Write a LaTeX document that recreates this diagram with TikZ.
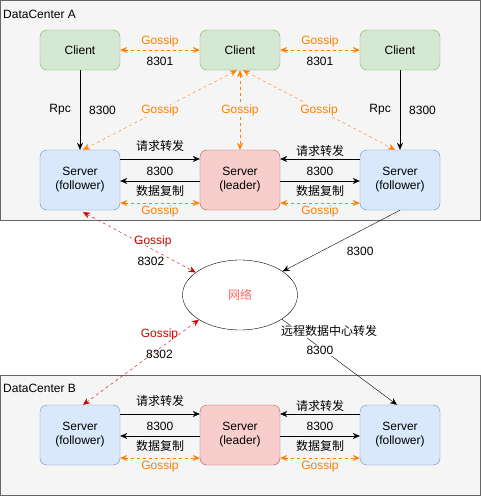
\documentclass[tikz,border=0pt]{standalone}
\usepackage{fontspec}
\setmainfont{Liberation Sans}
\newfontfamily\cjk{Noto Sans CJK SC}
\usetikzlibrary{arrows.meta,shapes.geometric}
\definecolor{gossip}{HTML}{FF8000}
\definecolor{wan}{HTML}{CC0000}
\definecolor{cfill}{HTML}{D5E8D4}
\definecolor{cline}{HTML}{82B366}
\definecolor{sfill}{HTML}{DAE8FC}
\definecolor{sline}{HTML}{6C8EBF}
\definecolor{lfill}{HTML}{F8CECC}
\definecolor{lline}{HTML}{B85450}
\tikzset{
	box/.style={draw,rounded corners=7pt,minimum width=80pt,minimum height=40pt,align=center,font=\fontsize{12}{14}\selectfont},
	client/.style={box,fill=cfill,draw=cline},
	server/.style={box,fill=sfill,draw=sline,minimum height=60pt},
	leader/.style={server,fill=lfill,draw=lline},
	dc/.style={draw=black!60,fill=black!4,line width=0.8pt},
	lbl/.style={font=\fontsize{12}{14}\selectfont,inner sep=1pt,text=black},
	cn/.style={lbl,font=\fontsize{12}{14}\selectfont\cjk},
	gl/.style={lbl,text=gossip},
	wl/.style={lbl,text=wan},
	gos/.style={gossip,dashed,{Stealth[length=7pt,width=6pt]}-{Stealth[length=7pt,width=6pt]}},
	wg/.style={wan,dashed,{Stealth[length=7pt,width=6pt]}-{Stealth[length=7pt,width=6pt]}},
	rq/.style={-{Stealth[length=7pt,width=6pt]}}
}
\begin{document}
\begin{tikzpicture}[x=1pt,y=-1pt]
	\useasboundingbox (0,0) rectangle (481,496);
	\draw[dc] (0.5,0.5) rectangle (480,220);
	\draw[dc] (0.5,375) rectangle (480,495.5);
	\node[lbl,anchor=west] at (2,14) {DataCenter A};
	\node[lbl,anchor=west] at (2,388) {DataCenter B};
	\node[client] (c1) at (80,50) {Client};
	\node[client] (c2) at (240,50) {Client};
	\node[client] (c3) at (400,50) {Client};
	\node[server] (s1) at (80,180) {Server\\(follower)};
	\node[leader] (l1) at (240,180) {Server\\(leader)};
	\node[server] (s2) at (400,180) {Server\\(follower)};
	\node[server] (s3) at (80,435) {Server\\(follower)};
	\node[leader] (l2) at (240,435) {Server\\(leader)};
	\node[server] (s4) at (400,435) {Server\\(follower)};
	\node[draw,ellipse,minimum width=115pt,minimum height=70pt,text=red!60,font=\fontsize{12}{14}\selectfont\cjk] (net) at (240,295) {网络};
	\draw[gos] (c1) -- (c2) node[gl,midway,yshift=9pt] {Gossip} node[lbl,midway,yshift=-11pt] {8301};
	\draw[gos] (c2) -- (c3) node[gl,midway,yshift=9pt] {Gossip} node[lbl,midway,yshift=-11pt] {8301};
	\draw[rq] (c1) -- (s1) node[lbl,midway,left=8pt] {Rpc} node[lbl,midway,right=8pt] {8300};
	\draw[rq] (c3) -- (s2) node[lbl,midway,left=8pt] {Rpc} node[lbl,midway,right=8pt] {8300};
	\draw[gos] ([xshift=-3pt]c2.south) -- ([xshift=3pt]s1.north) node[gl,midway,fill=black!4] {Gossip};
	\draw[gos] (c2) -- (l1) node[gl,midway,fill=black!4] {Gossip};
	\draw[gos] ([xshift=3pt]c2.south) -- ([xshift=-5pt]s2.north) node[gl,midway,fill=black!4] {Gossip};
	\foreach \a/\b/\c in {s1/l1/s2,s3/l2/s4}{
		\draw[rq] ([yshift=21pt]\a.east) -- ([yshift=21pt]\b.west) node[cn,midway,yshift=13pt] {请求转发};
		\draw[rq] ([yshift=-1pt]\b.west) -- ([yshift=-1pt]\a.east) node[lbl,midway,yshift=10pt] {8300} node[cn,midway,yshift=-10pt] {数据复制};
		\draw[gos] ([yshift=-23pt]\a.east) -- ([yshift=-23pt]\b.west) node[gl,midway,yshift=-8pt] {Gossip};
		\draw[rq] ([yshift=21pt]\c.west) -- ([yshift=21pt]\b.east) node[cn,midway,yshift=8pt] {请求转发};
		\draw[rq] ([yshift=-1pt]\b.east) -- ([yshift=-1pt]\c.west) node[lbl,midway,yshift=10pt] {8300} node[cn,midway,yshift=-10pt] {数据复制};
		\draw[gos] ([yshift=-23pt]\b.east) -- ([yshift=-23pt]\c.west) node[gl,midway,yshift=-8pt] {Gossip};
	}
	\draw[wg] ([xshift=3pt,yshift=-2pt]s1.south) -- (net.153) node[wl,pos=0.62,yshift=8pt] {Gossip} node[lbl,pos=0.62,xshift=-2pt,yshift=-12pt] {8302};
	\draw[wg] (net.211) -- ([xshift=3pt]s3.north) node[wl,pos=0.34,yshift=14pt] {Gossip} node[lbl,pos=0.34,yshift=-6pt] {8302};
	\draw[rq] (s2.south) -- (net.29) node[lbl,pos=0.34,yshift=-20pt] {8300};
	\draw[rq] (net.-30) -- ([xshift=-3pt]s4.north) node[cn,pos=0.14,xshift=31pt,fill=white] {远程数据中心转发} node[lbl,pos=0.365,xshift=-4pt,fill=white] {8300};
\end{tikzpicture}
\end{document}
